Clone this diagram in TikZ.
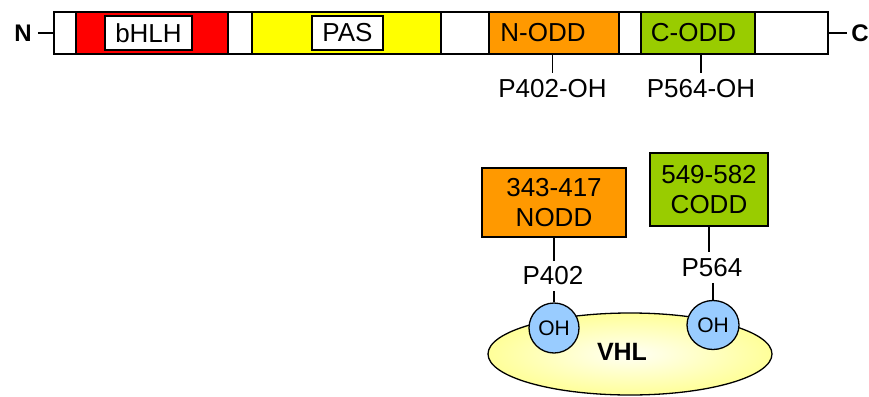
\documentclass[tikz,border=0pt]{standalone}
\usepackage{fontspec}
\setmainfont{Liberation Sans}
\usetikzlibrary{shapes.geometric}
\definecolor{hred}{HTML}{FF0000}
\definecolor{hyellow}{HTML}{FFFF00}
\definecolor{horange}{HTML}{FF9900}
\definecolor{hgreen}{HTML}{99CC00}
\definecolor{hblue}{HTML}{99CCFF}
\definecolor{vhlyellow}{HTML}{FFFF99}
\begin{document}
\begin{tikzpicture}[x=1pt,y=-1pt,
  seg/.style={draw, line width=1.3pt, minimum height=42pt, inner sep=0pt, outer sep=0pt},
  tbox/.style={draw, fill=white, line width=1.3pt, minimum height=34pt, inner sep=0pt, font=\fontsize{26}{30}\selectfont},
  lbl/.style={font=\fontsize{26}{30}\selectfont, inner sep=0pt},
  term/.style={font=\bfseries\fontsize{24}{28}\selectfont, inner ysep=0pt},
  ticklbl/.style={font=\fontsize{26}{30}\selectfont, inner xsep=0pt, inner ysep=7pt},
  dbox/.style={draw, line width=1.3pt, inner sep=0pt, align=center, font=\fontsize{26}{30}\selectfont},
  conn/.style={line width=1.3pt},
  ohc/.style={ellipse, draw, line width=1.3pt, fill=hblue, inner sep=0pt, font=\fontsize{21}{25}\selectfont}]
\useasboundingbox (0,0) rectangle (869,396);
% bar segments
\node[seg, fill=white,   minimum width=22pt]  (s1) at (65,33) {};
\node[seg, fill=hred,    minimum width=152pt] (s2) at (152,33) {};
\node[seg, fill=white,   minimum width=24pt]  (s3) at (240,33) {};
\node[seg, fill=hyellow, minimum width=189pt] (s4) at (346.5,33) {};
\node[seg, fill=white,   minimum width=48pt]  (s5) at (465,33) {};
\node[seg, fill=horange, minimum width=130pt] (s6) at (554,33) {};
\node[seg, fill=white,   minimum width=22pt]  (s7) at (630,33) {};
\node[seg, fill=hgreen,  minimum width=114pt] (s8) at (698,33) {};
\node[seg, fill=white,   minimum width=73pt]  (s9) at (791.5,33) {};
% labels in bar
\node[tbox, minimum width=87pt] (bhlh) at (148.5,33) {bHLH};
\node[tbox, minimum width=71pt] (pas) at (347.5,33) {PAS};
\node[lbl] (nodd-t) at (543,33) {N-ODD};
\node[lbl] (codd-t) at (693.5,33) {C-ODD};
% termini
\node[term, inner xsep=6pt] (nterm) at (23,33) {N};
\node[term, inner xsep=4pt] (cterm) at (860,33) {C};
\draw[conn] (nterm.east) -- (s1.west);
\draw[conn] (s9.east) -- (cterm.west);
% hydroxylation sites
\node[ticklbl] (p402oh) at (552.5,89) {P402-OH};
\node[ticklbl] (p564oh) at (701,89) {P564-OH};
\draw[conn] (p402oh.north |- s6.south) -- (p402oh.north);
\draw[conn] (p564oh.north |- s8.south) -- (p564oh.north);
% lower panel
\node[ellipse, draw, line width=1.3pt, minimum width=284pt, minimum height=82pt,
      inner color=vhlyellow!10!white, outer color=vhlyellow] (vhl) at (630,354) {};
\node[font=\bfseries\fontsize{25}{29}\selectfont, inner sep=0pt] (vhltxt) at (622,352) {VHL};
\node[dbox, fill=horange, minimum width=144pt, minimum height=69pt] (nodd) at (554,202.5) {343-417\\NODD};
\node[dbox, fill=hgreen, minimum width=118pt, minimum height=73pt] (codd) at (709,189.5) {549-582\\CODD};
\node[ticklbl, inner ysep=6pt] (p402) at (553,276) {P402};
\node[ticklbl, inner ysep=6pt] (p564) at (712,267.5) {P564};
\node[ohc, minimum width=50pt, minimum height=50pt] (oh1) at (554,328) {OH};
\node[ohc, minimum width=52pt, minimum height=49pt] (oh2) at (713,325) {OH};
\draw[conn] (nodd.south) -- (nodd.south |- p402.north);
\draw[conn] (oh1.north |- p402.south) -- (oh1.north);
\draw[conn] (codd.south) -- (codd.south |- p564.north);
\draw[conn] (oh2.north |- p564.south) -- (oh2.north);
\end{tikzpicture}
\end{document}
